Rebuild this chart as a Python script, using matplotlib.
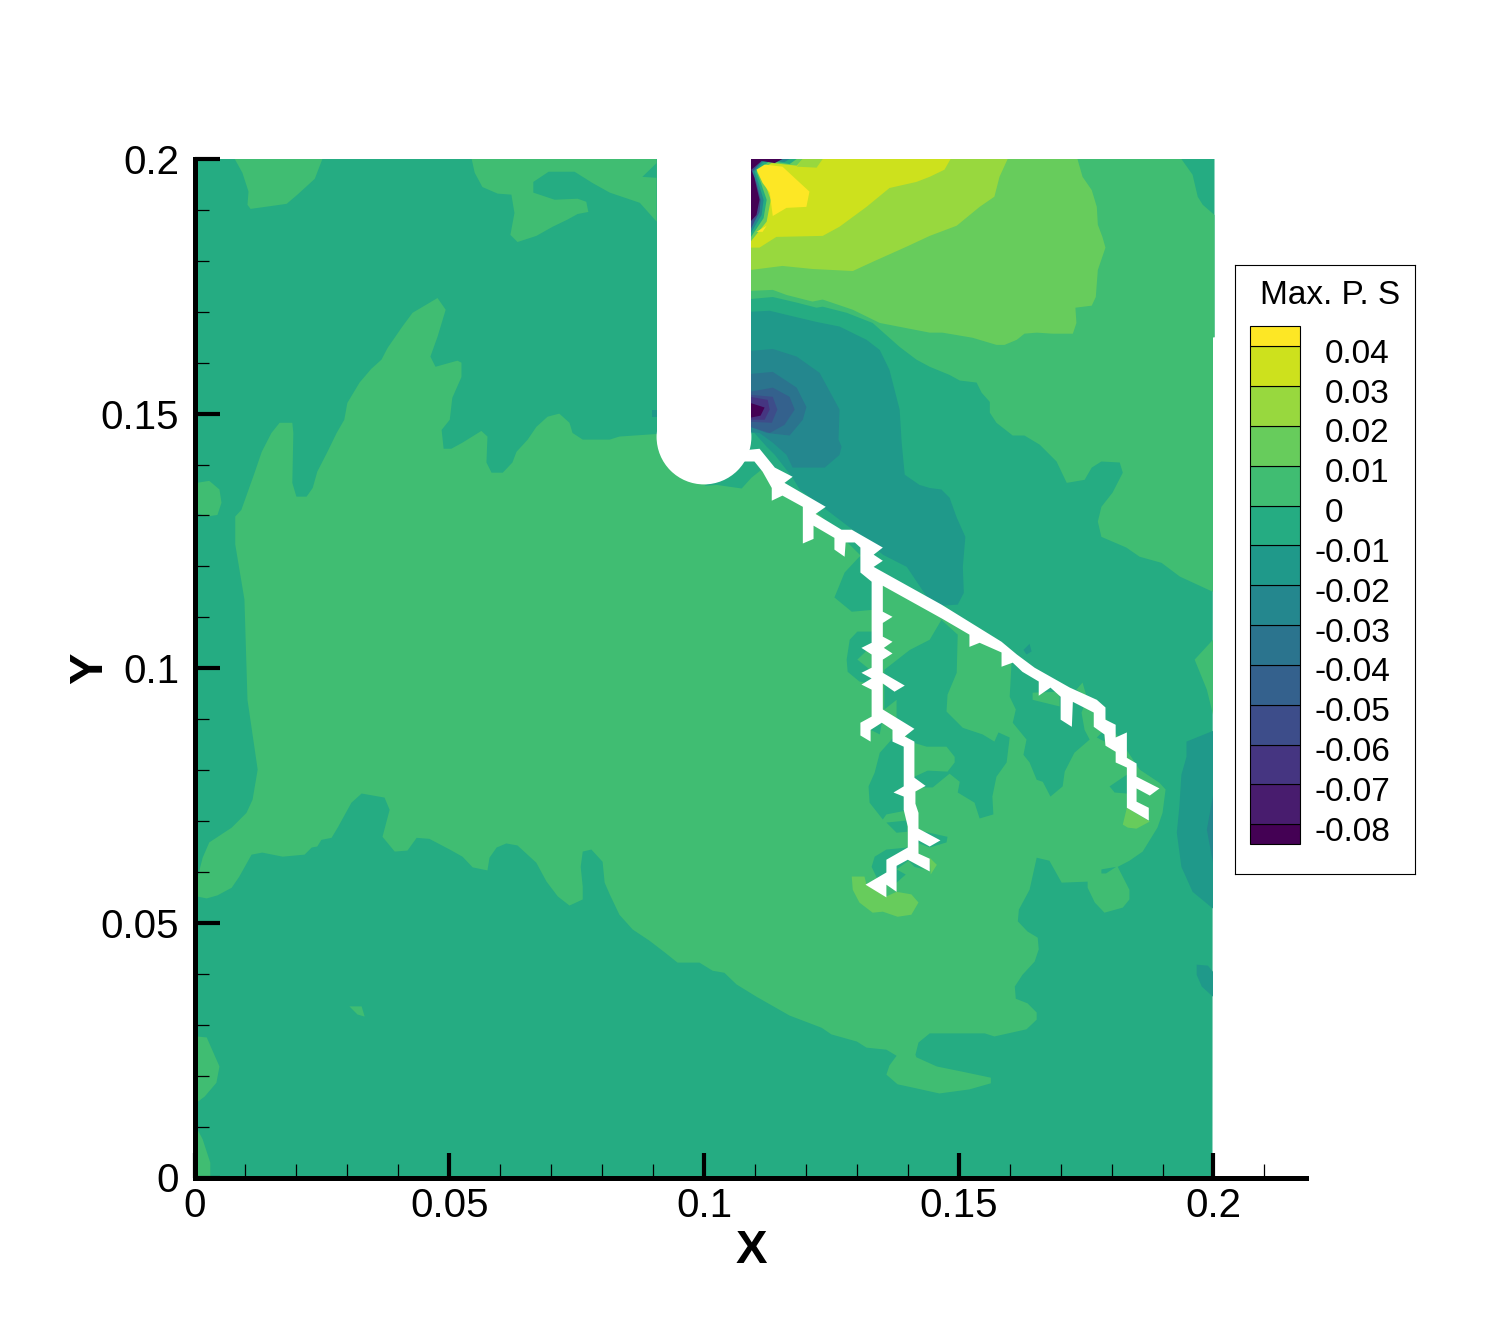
import numpy as np
import matplotlib
matplotlib.use("Agg")
import matplotlib.pyplot as plt
from matplotlib.colors import Normalize
from matplotlib.patches import Circle, Rectangle

plt.rcParams['font.family'] = ['Liberation Sans', 'DejaVu Sans']

# colour bar
levels = [-0.08, -0.07, -0.06, -0.05, -0.04, -0.03, -0.02, -0.01, 0, 0.01, 0.02, 0.03, 0.04]
level_labels = ['-0.08', '-0.07', '-0.06', '-0.05', '-0.04', '-0.03', '-0.02', '-0.01', '0',
                '0.01', '0.02', '0.03', '0.04']
band_values = [-0.085, -0.075, -0.065, -0.055, -0.045, -0.035, -0.025, -0.015, -0.005,
               0.005, 0.015, 0.025, 0.035, 0.045]

xticks = [0, 0.05, 0.1, 0.15, 0.2]
xtick_labels = ['0', '0.05', '0.1', '0.15', '0.2']
yticks = [0, 0.05, 0.1, 0.15, 0.2]
ytick_labels = ['0', '0.05', '0.1', '0.15', '0.2']

# contour outlines, (x, y) in units of 0.001
field = [(0, 0), (199.8, 0), (199.9, 165), (200.2, 165), (200.2, 200), (0, 200)]

main_green = [(90.7,146.0),(83.4,145.5),(81.5,144.9),(76.2,144.9),(74.2,146.2),(73.6,148.2),(71.6,150.0),(69.3,149.4),
    (67.1,147.4),(65.4,144.9),(63.2,142.5),(62.4,140.4),(60.5,138.4),(58.3,138.4),(57.3,140.4),(57.5,145.5),(56.3,146.6),
    (52.6,144.3),(50.4,143.1),(48.9,143.1),(48.5,146.8),(50.1,148.8),(50.6,153.1),(52.4,157.2),(52.4,160.0),(51.6,160.4),
    (47.3,159.2),(46.3,161.2),(47.7,165.1),(49.3,170.4),(47.7,172.7),(42.8,169.8),(40.8,167.1),(37.9,162.9),(36.7,160.6),
    (34.7,158.8),(32.4,156.1),(30.0,152.1),(29.4,148.8),(27.9,146.2),(26.1,142.5),(24.1,138.6),(23.2,135.4),(22.0,133.7),
    (20.0,133.7),(19.2,136.4),(19.4,146.2),(19.2,148.2),(16.7,148.2),(15.1,146.2),(13.2,142.5),(11.8,138.4),(10.8,135.6),
    (9.2,131.1),(8.0,129.8),(8.0,124.3),(9.8,113.5),(10.4,93.8),(12.4,80.1),(11.4,74.2),(10.2,71.6),(7.3,68.7),(2.9,65.8),
    (1.6,62.8),(0.4,58.1),(0.4,55.2),(2.4,54.8),(4.5,55.4),(7.3,56.9),(8.8,59.1),(11.2,63.4),(13.3,63.8),(17.3,63.0),
    (21.6,63.4),(23.0,64.8),(24.1,65.0),(24.9,66.3),(26.9,66.7),(28.1,68.7),(30.8,73.6),(32.8,75.4),(37.3,74.6),(38.3,72.2),
    (36.9,66.9),(39.3,64.0),(41.8,64.2),(43.6,66.7),(46.1,66.5),(50.1,64.4),(52.6,63.0),(54.6,60.9),(57.5,60.3),(57.9,62.8),
    (59.3,64.8),(61.2,65.6),(63.4,65.2),(67.1,61.8),(69.1,58.1),(71.3,55.2),(73.6,53.4),(76.2,54.6),(76.2,57.1),(75.8,61.0),
    (76.2,64.0),(77.9,64.4),(80.1,62.0),(80.5,57.9),(81.5,55.6),(83.4,51.6),(86.0,48.7),(89.3,46.5),(92.3,44.2),(94.8,42.2),
    (99.1,42.2),(101.7,40.6),(104.0,40.2),(106.4,37.9),(110.3,35.5),(116.8,31.8),(123.1,29.4),(125.0,28.1),(130.0,26.7),
    (131.9,25.5),(135.8,25.1),(137.8,23.9),(136.4,22.0),(135.8,20.2),(138.0,18.3),(141.7,17.5),(146.2,16.5),(152.1,17.3),
    (156.3,18.5),(156.3,19.6),(150.6,20.8),(145.7,21.8),(141.7,23.6),(141.5,24.1),(142.1,26.5),(144.3,28.3),(155.1,28.3),
    (157.0,27.7),(160.6,28.5),(163.3,29.1),(165.3,31.0),(165.3,32.4),(163.5,34.2),(161.2,35.1),(161.0,37.5),(162.5,39.8),
    (164.9,42.4),(165.7,44.8),(165.5,47.1),(163.5,48.3),(161.6,50.3),(161.8,52.6),(163.9,56.5),(165.3,62.8),(167.8,62.2),
    (170.2,57.9),(175.3,58.1),(175.3,56.9),(176.7,54.0),(178.6,52.0),(182.2,53.0),(183.5,54.6),(183.5,56.5),(181.2,61.0),
    (183.5,62.2),(186.1,64.0),(189.0,68.7),(190.0,71.6),(190.6,76.2),(189.4,77.5),(185.5,80.1),(177.7,91.9),(161.9,101.7),
    (134.5,118.4),(121.7,131.1),(111.3,140.6),(99.9,139.0)]
green_top_left = [(7.9,200),(9.4,197.3),(10.6,193.6),(10.4,191.0),(11.0,190.2),(15.3,190.8),(18.1,191.2),(20.2,193.0),
    (23.6,196.1),(25.1,200)]
green_by_notch = [(54.4,200),(55.0,197.3),(56.5,194.5),(59.5,193.2),(62.2,193.0),(62.8,189.4),(62.0,185.1),(63.4,183.7),
    (67.1,184.9),(70.3,186.7),(73.2,188.1),(75.2,189.2),(77.3,189.6),(76.9,191.6),(75.2,192.2),(70.7,192.0),(66.5,193.4),
    (66.5,195.5),(69.5,197.5),(74.6,197.5),(78.1,195.3),(81.5,193.4),(87.4,191.4),(90.7,187.7),(90.7,200)]
green_upper_right = [(109.1,172.5),(113.5,172.9),(118.2,171.8),(122.1,170.8),(123.3,171.0),(128.0,169.8),
    (133.1,167.8),(138.4,163.1),(141.7,160.6),(144.3,159.2),(148.2,157.6),(150.2,156.5),(153.5,156.1),(154.5,154.1),
    (156.1,152.3),(156.1,150.2),(157.4,148.2),(160.6,145.7),(162.9,145.7),(165.9,143.9),(169.2,140.6),(171.2,136.4),
    (174.7,137.0),(176.1,139.4),(178.0,140.6),(181.6,140.4),(182.2,138.4),(180.2,134.5),(178.0,131.7),(177.3,128.8),
    (178.0,125.8),(182.9,123.7),(185.5,121.9),(189.8,120.7),(193.4,118.0),(199.9,115.0),(199.9,165),(200.2,165),(200.2,189.0),
    (197.9,191.0),(196.9,192.6),(195.9,196.9),(193.7,200),(109.1,200)]
green_right_edge = [(199.9,105.6),(196.3,101.7),(198.7,95.8),(199.9,90.9)]
green_left_a = [(0.4,136.4),(2.9,136.8),(4.9,135.1),(5.3,132.5),(4.5,130.1),(2.4,129.8),(0.4,130.5)]
green_left_b = [(0.4,27.7),(2.4,27.5),(4.9,21.8),(4.3,18.6),(2.0,15.9),(0.4,14.7)]
green_left_c = [(0.4,9.8),(1.6,7.5),(3.1,2.9),(3.1,0),(0.4,0)]
green_speck = [(30.4,33.6),(32.8,33.6),(33.4,31.6),(32.0,32.0)]

low_a = [(133.5,123.3),(130.5,121.9),(127.6,118.8),(125.6,113.9),(129.0,111.1),(133.5,111.5)]
low_b = [(135.4,99.7),(140.4,103.6),(144.3,105.6),(146.6,109.5),(149.8,106.6),(149.6,99.1),(147.8,94.8),
    (147.6,91.5),(150.8,88.3),(154.7,87.0),(157.0,85.6),(157.8,87.4),(160.0,86.4),(159.4,81.5),(157.4,78.7),
    (156.6,74.8),(156.8,71.3),(154.1,70.5),(153.1,73.6),(149.8,75.6),(150.2,77.7),(148.2,79.3),(144.9,76.6),
    (141.3,76.6),(141.3,78.7),(143.9,79.9),(147.8,79.7),(149.2,81.5),(149.2,82.6),(147.6,84.6),(143.7,84.6),
    (140.4,85.6),(137.8,89.9),(137.8,93.8),(135.4,91.9)]
low_c = [(160.4,101.7),(160.0,94.4),(161.2,91.9),(160.6,89.3),(163.3,86.0),(162.7,83.0),(163.9,81.5),(165.3,78.1),
    (166.5,77.7),(168.0,74.8),(170.4,76.8),(170.8,79.7),(172.7,83.4),(175.7,86.0),(174.7,87.9),(174.1,91.3),
    (175.1,93.8),(167.8,98.7)]
low_d = [(137.0,86.2),(134.5,83.4),(133.5,79.5),(132.3,76.8),(132.5,73.6),(135.1,70.3),(135.8,71.3),(139.4,72.0),
    (139.4,85.0)]
low_e = [(135.8,69.7),(139.8,70.1),(139.9,67.9),(137.8,67.7)]
low_f = [(141.7,68.3),(143.3,67.9),(147.8,66.9),(147.6,65.8),(144.3,64.8),(141.7,65.8)]
low_g = [(132.9,61.0),(133.5,63.0),(135.8,64.4),(140.0,64.8),(140.4,62.4),(137.8,60.5),(139.6,59.5),(137.8,57.9),
    (135.8,57.5),(133.9,58.9)]
low_h = [(140.0,62.4),(141.3,61.0),(143.3,60.5)]
low_i = [(128.0,101.7),(128.6,105.6),(130.1,107.2),(133.1,107.2),(133.1,104.6),(130.1,101.7),(133.1,99.3),
    (133.1,96.8),(130.5,97.4),(128.2,99.3)]
low_j = [(132.7,87.9),(134.9,89.3),(134.5,87.0)]
low_k = [(179.6,76.8),(183.0,79.1),(183.0,75.4),(180.6,75.6)]
low_l = [(177.1,86.4),(178.6,87.9),(178.6,85.6)]
low_m = [(178.0,60.5),(180.9,61.0),(178.9,59.7),(178.0,59.7)]
low_n = [(100.1,135.8),(102.5,136.0),(107.4,135.3),(109.3,137.4),(111.3,139.0),(109.3,141.9),(106.0,140.6)]
low_o = [(87.9,196.5),(90.7,199.2),(90.7,196.3)]
green_strip = [(164.5,95.2),(164.5,93.8),(169.8,92.5),(169.8,95.4)]
green_chip = [(173.1,95.8),(174.3,97.2),(175.1,94.4)]

# stress dip on the right edge
edge_a = [(199.9,87.7),(194.7,85.6),(194.7,82.6),(193.7,79.1),(193.3,72.8),(192.8,67.7),(193.7,61.0),(195.9,56.1),(199.9,52.8)]
edge_b = [(199.9,75.0),(198.7,68.3),(199.9,61.8)]
edge_c = [(196.7,41.8),(198.9,41.6),(199.9,40.4),(199.9,35.5),(197.7,37.5),(196.7,39.8)]
spot_a = [(162.7,103.6),(163.9,104.8),(164.3,103.3),(163.3,102.7)]
spot_b = [(89.7,150.8),(90.7,150.8),(90.7,149.4),(89.7,149.4)]

# minimum around the notch side
dip_1 = [(109.1,170.0),(112.9,170.2),(116.2,169.4),(122.1,168.0),(126.6,167.1),(131.9,164.5),(134.5,162.5),
    (136.4,158.6),(138.4,150.8),(138.8,144.3),(139.4,138.0),(142.3,136.0),(144.3,135.4),(146.6,135.1),(148.2,133.5),
    (149.6,129.6),(151.3,125.8),(150.8,119.9),(151.0,114.8),(149.8,112.5),(146.8,112.3),(143.7,114.1),(139.8,119.9),
    (135.1,122.3),(130.5,126.2),(118.8,135.1),(117.4,137.4),(113.9,141.9),(112.3,143.5),(109.9,146.2),(109.1,146.2)]
dip_2 = [(109.1,162.3),(113.5,162.7),(118.2,161.2),(122.7,158.0),(126.6,150.8),(126.4,144.9),(127.0,143.5),
    (126.6,141.9),(123.7,139.4),(117.4,139.4),(116.2,141.9),(113.5,144.3),(110.9,146.2),(109.1,146.4)]
dip_3 = [(109.1,157.8),(113.5,158.2),(118.2,155.1),(120.1,151.3),(119.4,148.8),(116.8,145.7),(112.3,146.2),(109.1,147.4)]
dip_4 = [(109.1,154.3),(113.5,155.1),(116.8,153.3),(117.8,150.8),(115.8,147.8),(112.9,146.2),(109.1,147.4)]
dip_5 = [(109.1,153.7),(113.5,153.3),(114.4,150.8),(113.3,148.2),(109.1,148.4)]
dip_6 = [(109.1,153.3),(112.5,152.7),(112.9,150.8),(111.9,148.8),(109.1,148.8)]
dip_7 = [(109.1,152.1),(111.9,151.2),(111.1,149.6),(109.1,149.2)]

# maximum at the top of the notch
top_1 = [(109.1,174.1),(113.5,174.3),(116.2,173.3),(121.3,172.0),(123.3,172.4),(129.2,170.4),(134.5,167.8),
    (144.3,165.9),(146.8,165.9),(152.7,164.9),(157.4,163.5),(159.0,163.5),(161.4,164.5),(162.9,165.7),(165.3,165.9),
    (168.4,165.7),(172.4,165.7),(173.1,167.8),(172.9,170.8),(176.1,171.2),(176.9,172.9),(177.3,178.2),(178.8,182.6),
    (178.2,184.7),(177.3,187.1),(177.1,190.6),(176.1,193.9),(174.3,196.5),(173.3,200),(109.1,200)]
top_2 = [(109.1,178.2),(115.4,179.0),(121.3,178.4),(129.2,178.0),(133.1,179.8),(139.8,182.8),(144.3,184.9),
    (149.6,186.9),(154.1,190.6),(157.0,192.6),(158.0,196.5),(159.6,200),(109.1,200)]
top_3 = [(109.1,182.6),(110.9,182.6),(114.2,184.7),(123.3,184.9),(126.6,186.7),(131.9,190.6),(136.4,194.3),
    (141.7,195.5),(144.3,196.5),(147.2,197.9),(148.4,200),(109.1,200)]
top_2b = [(118.2,198.5),(119.4,200),(123.3,200),(122.1,198.3)]
nest_1 = [(109.1,183.7),(112.3,187.7),(113.1,192.0),(111.7,195.9),(110.9,197.9),(113.3,199.2),(118.2,198.7),(119.4,200),(109.1,200)]
nest_2 = [(109.1,184.5),(111.7,188.4),(112.3,192.0),(111.1,195.5),(110.3,197.5),(112.9,199.6),(116.8,199.0),(118.2,200),(109.1,200)]
nest_3 = [(109.1,185.3),(111.3,189.0),(111.7,192.0),(110.7,195.3),(109.9,197.5),(111.9,199.8),(115.8,199.4),(116.8,200),(109.1,200)]
nest_4 = [(109.1,186.1),(110.9,189.6),(111.1,192.0),(110.3,195.3),(109.5,197.5),(111.5,199.8),(116.2,200),(109.1,200)]
nest_5 = [(109.1,187.7),(110.3,189.0),(110.9,192.0),(109.9,196.3),(109.3,197.9),(111.3,199.6),(113.9,199.2),(115.4,200),(109.1,200)]
peak_a = [(110.3,197.9),(111.9,198.9),(115.4,198.5),(118.2,195.9),(120.7,193.6),(120.1,190.6),(116.2,190.4),
    (113.5,188.8),(112.9,193.4),(111.5,195.3)]
peak_b = [(110.3,185.7),(112.3,186.9),(111.5,185.7)]

# higher patches at the crack tips
tip_a = [(129.0,59.1),(131.5,59.1),(131.9,57.5),(135.8,55.2),(137.8,56.1),(140.7,55.6),(142.1,54.0),(140.7,51.6),
    (138.0,51.2),(135.1,52.2),(133.1,52.0),(130.5,54.0),(129.2,56.5)]
tip_b = [(144.3,62.8),(145.7,61.4),(144.5,59.5)]
tip_c = [(183.0,72.6),(187.5,69.9),(184.9,68.5),(183.2,68.7),(182.2,69.3)]

crack = [(108.9,142.9),(110.9,143.1),(113.9,139.4),(117.4,137.6),(115.8,136.4),(123.9,131.7),(121.9,130.3),
    (127.0,127.2),(129.0,127.2),(135.1,123.7),(133.3,122.3),(135.1,121.1),(133.3,119.9),(146.6,112.5),(158.4,105.2),
    (161.4,102.7),(164.9,100.1),(171.8,96.2),(177.1,93.8),(178.8,92.3),(178.8,89.9),(180.8,88.9),(180.8,86.4),
    (183.0,87.4),(183.0,82.4),(184.9,81.3),(184.9,78.7),(189.4,76.4),(187.5,75.0),(184.9,76.4),(184.9,73.8),
    (187.3,72.6),(187.3,70.1),(183.0,72.6),(183.0,80.5),(180.8,81.5),(180.8,83.6),(178.8,84.8),(178.6,87.0),
    (176.5,88.5),(176.5,91.3),(172.4,93.4),(172.2,88.5),(170.0,89.9),(170.0,94.4),(168.0,96.2),(165.7,94.6),
    (165.7,97.4),(162.5,99.3),(160.6,101.1),(158.4,100.3),(158.4,103.1),(154.1,105.0),(152.1,104.2),(152.1,106.6),
    (146.8,109.7),(135.1,116.2),(135.1,111.1),(137.0,110.1),(135.1,108.9),(135.1,106.2),(137.0,105.2),(135.3,104.0),
    (137.0,102.9),(135.1,101.7),(135.1,99.1),(139.4,96.6),(137.4,95.4),(135.1,97.0),(135.1,91.9),(141.3,88.1),
    (139.4,86.6),(141.3,85.6),(141.3,78.5),(143.5,76.9),(141.5,75.8),(141.5,73.4),(142.1,71.6),(142.1,68.5),
    (146.4,66.2),(144.3,65.0),(142.1,66.2),(142.1,63.6),(144.3,62.6),(144.3,60.1),(140.0,62.4),(137.8,61.2),
    (137.8,56.1),(135.8,57.5),(135.8,55.0),(131.7,57.5),(135.8,59.9),(135.8,62.4),(140.0,64.8),(140.0,68.9),
    (139.2,72.2),(139.2,74.8),(137.2,75.6),(139.2,76.8),(139.2,84.6),(137.0,85.6),(137.0,87.9),(134.9,89.3),
    (132.7,87.9),(132.7,85.6),(130.7,86.8),(130.7,89.3),(132.9,90.5),(132.9,95.8),(130.9,96.8),(132.9,98.0),
    (130.9,99.1),(132.9,100.1),(132.9,102.7),(130.9,104.0),(132.9,105.0),(132.9,117.0),(130.7,118.8),(130.7,123.7),
    (129.6,124.7),(127.8,124.7),(127.6,121.9),(125.6,123.3),(125.6,125.6),(121.5,128.0),(121.5,125.4),(119.4,124.5),
    (119.4,131.7),(115.4,133.9),(113.3,132.9),(113.3,135.4),(111.5,138.6),(109.9,140.6),(107.6,140.6),(106.0,139.0)]

# notch, in data units
notch_left, notch_right = 0.0907, 0.1093
notch_arc_y, notch_radius = 0.1454, 0.0093

regions = [
    (field, -0.005),
    (main_green, 0.005), (green_top_left, 0.005), (green_by_notch, 0.005), (green_upper_right, 0.005),
    (green_right_edge, 0.005), (green_left_a, 0.005), (green_left_b, 0.005), (green_left_c, 0.005), (green_speck, 0.005),
    (low_a, -0.005), (low_b, -0.005), (low_c, -0.005), (low_d, -0.005), (low_e, -0.005), (low_f, -0.005), (low_g, -0.005),
    (low_h, -0.005), (low_i, -0.005), (low_j, -0.005), (low_k, -0.005), (low_l, -0.005), (low_m, -0.005), (low_n, -0.005),
    (low_o, -0.005), (green_strip, 0.005), (green_chip, 0.005),
    (edge_a, -0.015), (edge_b, -0.025), (edge_c, -0.015), (spot_a, -0.015), (spot_b, -0.015),
    (dip_1, -0.015), (dip_2, -0.025), (dip_3, -0.035), (dip_4, -0.045), (dip_5, -0.055), (dip_6, -0.065), (dip_7, -0.085),
    (top_1, 0.015), (top_2, 0.025), (top_3, 0.035), (top_2b, 0.025),
    (nest_1, 0.015), (nest_2, -0.005), (nest_3, -0.025), (nest_4, -0.055), (nest_5, -0.085),
    (peak_a, 0.045), (peak_b, 0.045),
    (tip_a, 0.015), (tip_b, 0.015), (tip_c, 0.015),
]

cmap = plt.cm.viridis
norm = Normalize(-0.085, 0.045)

fig = plt.figure(figsize=(14.9, 13.25), dpi=100)
ax = fig.add_axes([194.5 / 1490, 147.5 / 1325, 1111 / 1490, 1018.5 / 1325])

for outline, value in regions:
    pts = np.array(outline) / 1000
    ax.fill(pts[:, 0], pts[:, 1], color=cmap(norm(value)), lw=0)

ax.add_patch(Rectangle((notch_left, notch_arc_y), notch_right - notch_left, 0.2 - notch_arc_y, color='white', lw=0))
ax.add_patch(Circle(((notch_left + notch_right) / 2, notch_arc_y), notch_radius, color='white', lw=0))
pts = np.array(crack) / 1000
ax.fill(pts[:, 0], pts[:, 1], color='white', lw=0)

ax.set_xlim(0, 0.21806)
ax.set_ylim(0, 0.2)
ax.spines['top'].set_visible(False)
ax.spines['right'].set_visible(False)
ax.spines['left'].set_linewidth(3.6)
ax.spines['bottom'].set_linewidth(3.6)
ax.set_xticks(xticks)
ax.set_xticklabels(xtick_labels)
ax.set_yticks(yticks)
ax.set_yticklabels(ytick_labels)
ax.set_xticks(np.arange(1, 22) / 100, minor=True)
ax.set_yticks(np.arange(1, 20) / 100, minor=True)
ax.tick_params(which='major', direction='in', length=18, width=3, labelsize=29)
ax.tick_params(axis='x', which='major', pad=7)
ax.tick_params(axis='y', which='major', pad=11)
ax.tick_params(which='minor', direction='in', length=10, width=0.9)
ax.set_xlabel('X', fontsize=34, fontweight='bold')
ax.xaxis.set_label_coords(0.5015, -0.0507)
ax.set_ylabel('Y', fontsize=34, fontweight='bold', labelpad=-8)

# legend box, y axis in level units
leg = fig.add_axes([1235 / 1490, 451 / 1325, 180 / 1490, 609 / 1325])
leg.set_xlim(0, 180)
leg.set_ylim(-0.0925, 0.0604)
leg.set_xticks([])
leg.set_yticks([])
for s in leg.spines.values():
    s.set_linewidth(0.8)
edges = [-0.085] + levels + [0.045]
for i in range(len(band_values)):
    leg.barh(edges[i], 50, height=edges[i + 1] - edges[i], left=15, align='edge',
             color=cmap(norm(band_values[i])), edgecolor='black', linewidth=0.8)
for lev, lab in zip(levels, level_labels):
    xpos = 80 if lab.startswith('-') else 90
    leg.text(xpos, lev - 0.002, lab, fontsize=24, ha='left', va='center')
leg.text(95, 0.0528, 'Max. P. S', fontsize=24, ha='center', va='center')

fig.savefig('out.png', dpi=100)
